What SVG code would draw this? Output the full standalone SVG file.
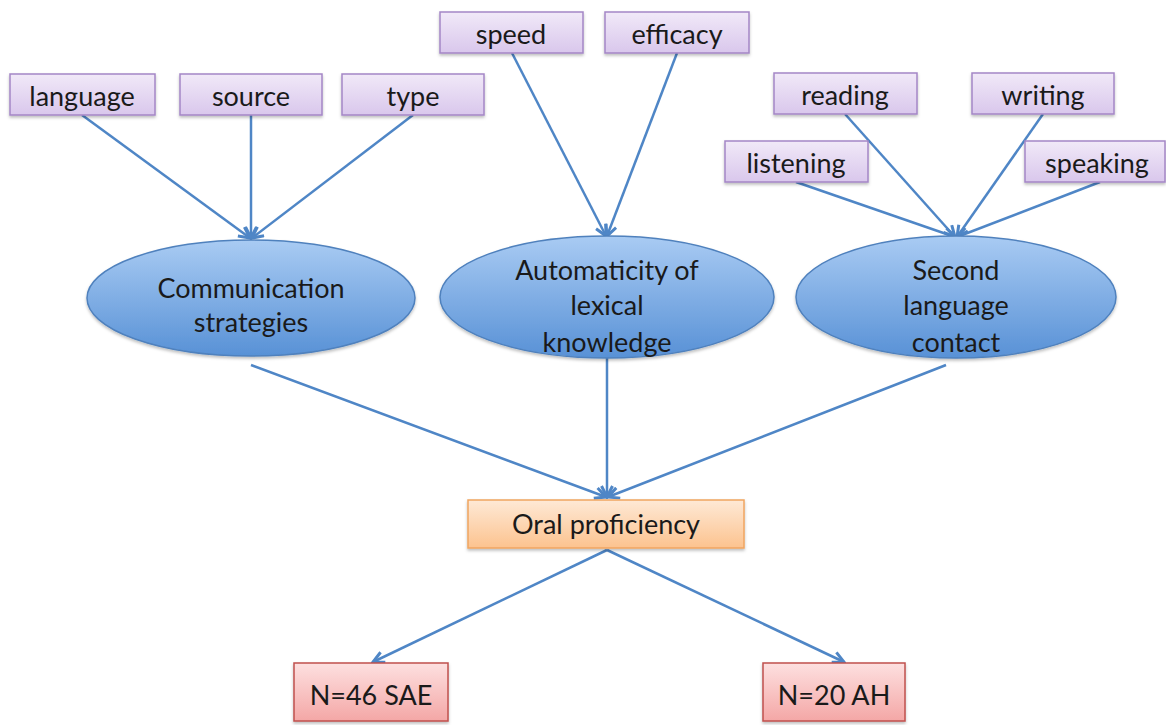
<svg xmlns="http://www.w3.org/2000/svg" width="1166" height="725" viewBox="0 0 1166 725">
  <defs>
    <linearGradient id="gPurple" x1="0" y1="0" x2="0" y2="1">
      <stop offset="0" stop-color="#f1e9f8"/>
      <stop offset="1" stop-color="#d9c7ec"/>
    </linearGradient>
    <linearGradient id="gBlue" x1="0" y1="0" x2="0" y2="1">
      <stop offset="0" stop-color="#a9cbf3"/>
      <stop offset="1" stop-color="#5891d6"/>
    </linearGradient>
    <linearGradient id="gOrange" x1="0" y1="0" x2="0" y2="1">
      <stop offset="0" stop-color="#fee9d6"/>
      <stop offset="1" stop-color="#fcc38f"/>
    </linearGradient>
    <linearGradient id="gRed" x1="0" y1="0" x2="0" y2="1">
      <stop offset="0" stop-color="#fde0e0"/>
      <stop offset="1" stop-color="#f4a7a6"/>
    </linearGradient>
    <marker id="arrow" viewBox="0 0 14 14" refX="12" refY="7" markerWidth="14" markerHeight="14" markerUnits="userSpaceOnUse" orient="auto">
      <path d="M1,1.5 L12,7 L1,12.5" fill="none" stroke="#4f86c6" stroke-width="3" stroke-linejoin="miter"/>
    </marker>
    <filter id="shadow" x="-10%" y="-10%" width="120%" height="130%">
      <feDropShadow dx="0" dy="2" stdDeviation="1.5" flood-color="#000" flood-opacity="0.25"/>
    </filter>
  </defs>
  <style>
    text { font-family: "Lato", "Open Sans", "Liberation Sans", sans-serif; font-size: 27px; fill: #1a1a1a; text-anchor: middle; }
    .factor { fill: url(#gPurple); stroke: #a486c6; stroke-width: 1.5; filter: url(#shadow); }
    .construct { fill: url(#gBlue); stroke: #4f81bd; stroke-width: 1.5; filter: url(#shadow); }
    .outcome { fill: url(#gOrange); stroke: #f0a560; stroke-width: 1.5; filter: url(#shadow); }
    .group { fill: url(#gRed); stroke: #c0504d; stroke-width: 1.5; filter: url(#shadow); }
    .link { stroke: #4f86c6; stroke-width: 2.5; fill: none; marker-end: url(#arrow); }
  </style>

  <g id="connectors">
    <line class="link" x1="82" y1="115" x2="250" y2="238"/>
    <line class="link" x1="251" y1="115" x2="251" y2="238"/>
    <line class="link" x1="413" y1="115" x2="252" y2="238"/>
    <line class="link" x1="512" y1="53" x2="606" y2="236"/>
    <line class="link" x1="677" y1="53" x2="607" y2="236"/>
    <line class="link" x1="845" y1="114" x2="955" y2="237"/>
    <line class="link" x1="1043" y1="114" x2="957" y2="237"/>
    <line class="link" x1="796" y1="182" x2="955" y2="237"/>
    <line class="link" x1="1100" y1="182" x2="957" y2="237"/>
    <line class="link" x1="251" y1="365" x2="606" y2="497"/>
    <line class="link" x1="607" y1="358" x2="607" y2="497"/>
    <line class="link" x1="946" y1="365" x2="608" y2="497"/>
    <line class="link" x1="607" y1="550" x2="373" y2="662"/>
    <line class="link" x1="607" y1="550" x2="844" y2="662"/>
  </g>

  <g id="language"><rect class="factor" x="10" y="74" width="145" height="41"/><text x="82" y="106">language</text></g>
  <g id="source"><rect class="factor" x="180" y="74" width="142" height="41"/><text x="251" y="106">source</text></g>
  <g id="type"><rect class="factor" x="342" y="74" width="142" height="41"/><text x="413" y="106">type</text></g>
  <g id="speed"><rect class="factor" x="440" y="12" width="143" height="41"/><text x="511" y="44">speed</text></g>
  <g id="efficacy"><rect class="factor" x="605" y="12" width="144" height="41"/><text x="677" y="44">efficacy</text></g>
  <g id="reading"><rect class="factor" x="774" y="73" width="143" height="41"/><text x="845" y="105">reading</text></g>
  <g id="writing"><rect class="factor" x="972" y="73" width="142" height="41"/><text x="1043" y="105">writing</text></g>
  <g id="listening"><rect class="factor" x="725" y="141" width="143" height="41"/><text x="796" y="173">listening</text></g>
  <g id="speaking"><rect class="factor" x="1025" y="141" width="140" height="41"/><text x="1097" y="173">speaking</text></g>

  <g id="communication-strategies">
    <ellipse class="construct" cx="251" cy="298" rx="164" ry="58"/>
    <text x="251" y="298">Communication</text>
    <text x="251" y="332">strategies</text>
  </g>
  <g id="automaticity">
    <ellipse class="construct" cx="607" cy="297" rx="167" ry="61"/>
    <text x="607" y="280">Automaticity of</text>
    <text x="607" y="315">lexical</text>
    <text x="607" y="352">knowledge</text>
  </g>
  <g id="l2-contact">
    <ellipse class="construct" cx="956" cy="297" rx="160" ry="61"/>
    <text x="956" y="280">Second</text>
    <text x="956" y="315">language</text>
    <text x="956" y="352">contact</text>
  </g>

  <g id="oral-proficiency"><rect class="outcome" x="468" y="500" width="276" height="48"/><text x="606" y="534">Oral proficiency</text></g>
  <g id="sae"><rect class="group" x="294" y="663" width="154" height="58"/><text x="371" y="705">N=46 SAE</text></g>
  <g id="ah"><rect class="group" x="763" y="663" width="142" height="58"/><text x="834" y="705">N=20 AH</text></g>
</svg>
